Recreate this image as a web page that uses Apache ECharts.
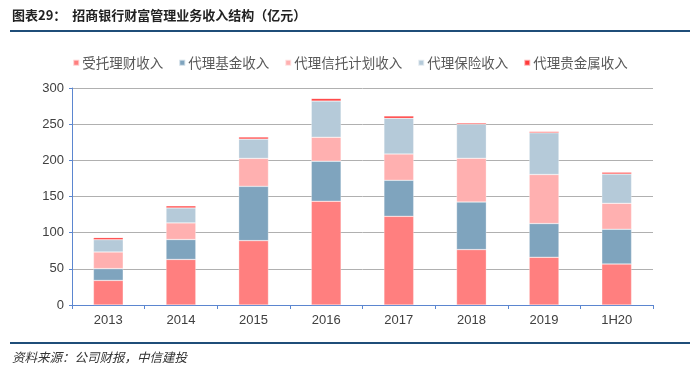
<!DOCTYPE html>
<html>
<head>
<meta charset="utf-8">
<script src="https://cdn.jsdelivr.net/npm/echarts@6/dist/echarts.min.js"></script>
<style>
html,body{margin:0;padding:0;background:#fff;}
#main{width:700px;height:375px;}
</style>
</head>
<body>
<div id="main"></div>
<script>
// 年份
var years = ['2013', '2014', '2015', '2016', '2017', '2018', '2019', '1H20'];
var seriesNames = ['受托理财收入', '代理基金收入', '代理信托计划收入', '代理保险收入', '代理贵金属收入'];
// 各项收入（亿元）
var wealthMgmt = [34, 63, 89, 143.4, 122.6, 76.6, 66, 56.7];
var fundAgency = [16.3, 27.5, 75, 55.3, 49.8, 65.8, 46.6, 48];
var trustAgency = [23, 23, 38.7, 33.2, 36.4, 60.4, 67.8, 35.9];
var insuranceAgency = [17, 20.7, 26.7, 50.1, 49.3, 47, 57.6, 40.5];
var metalAgency = [2.8, 2.8, 2.8, 3.4, 3.2, 1.8, 1.8, 2.4];
var yTicks = [0, 300, 50];

var colors = ['#FF7F7F', '#7FA4BE', '#FFB0B0', '#B5CAD9', '#FF3B3B'];
var allData = [wealthMgmt, fundAgency, trustAgency, insuranceAgency, metalAgency];

var myChart = echarts.init(document.getElementById('main'));
var series = [];
for (var i = 0; i < seriesNames.length; i++) {
	series.push({
		name: seriesNames[i],
		type: 'bar',
		stack: 'total',
		barWidth: '41%',
		itemStyle: {color: colors[i], borderColor: 'rgba(255,255,255,0.6)', borderWidth: 0.5},
		data: allData[i]
	});
}

var option = {
	animation: false,
	color: colors,
	graphic: [
		{type: 'text', left: 12, top: 9, style: {text: '图表29：  招商银行财富管理业务收入结构（亿元）', font: 'bold 13px "Noto Sans CJK SC"', fill: '#222'}},
		{type: 'rect', shape: {x: 10, y: 30, width: 680, height: 2}, style: {fill: '#1F4E79'}},
		{type: 'rect', shape: {x: 10, y: 342, width: 680, height: 2}, style: {fill: '#1F4E79'}},
		{type: 'text', left: 12, top: 351, style: {text: '资料来源：公司财报，中信建投', font: 'italic 12.5px "Noto Sans CJK SC"', fill: '#333'}}
	],
	legend: {
		data: seriesNames,
		top: 51,
		left: 'center',
		itemWidth: 6,
		itemHeight: 6,
		itemGap: 15,
		icon: 'rect',
		textStyle: {color: '#595959', fontSize: 13.5, fontFamily: '"Noto Sans CJK SC"', padding: [0, 0, 0, -2]}
	},
	grid: {left: 72, right: 47, top: 88, bottom: 70},
	xAxis: {
		type: 'category',
		data: years,
		axisLine: {lineStyle: {color: '#5B86D0', width: 1}},
		axisTick: {show: true, length: 4, lineStyle: {color: '#5B86D0'}},
		axisLabel: {color: '#404040', fontSize: 13, fontFamily: 'Arial, "Liberation Sans"', margin: 9}
	},
	yAxis: {
		type: 'value',
		min: yTicks[0],
		max: yTicks[1],
		interval: yTicks[2],
		axisLine: {show: true, lineStyle: {color: '#5B86D0'}},
		axisTick: {show: true, length: 3, lineStyle: {color: '#5B86D0'}},
		splitLine: {lineStyle: {color: '#B0B0B0', width: 1}},
		axisLabel: {color: '#404040', fontSize: 13, fontFamily: 'Arial, "Liberation Sans"', margin: 8}
	},
	series: series
};
myChart.setOption(option);
</script>
</body>
</html>
